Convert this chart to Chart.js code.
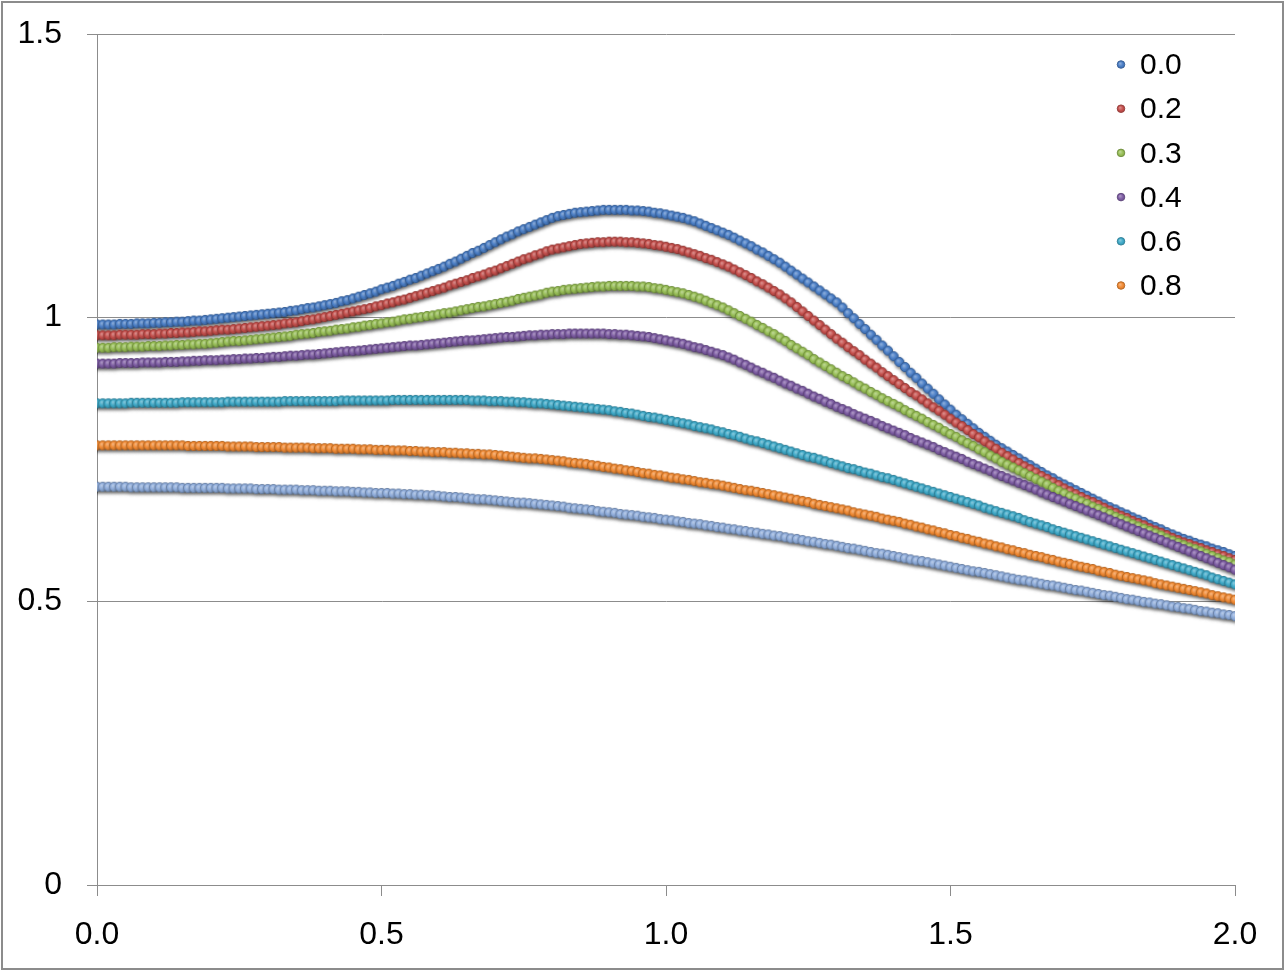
<!DOCTYPE html>
<html>
<head>
<meta charset="utf-8">
<script src="https://cdn.jsdelivr.net/npm/chart.js@4.4.1/dist/chart.umd.min.js"></script>
<style>
  html, body { margin: 0; padding: 0; background: #fff; }
  #wrap { position: absolute; left: 0; top: 0; width: 1286px; height: 971px; }
  canvas { display: block; }
</style>
</head>
<body>
<div id="wrap"><canvas id="c" width="1286" height="971"></canvas></div>
<script>
// ---- data ----
const seriesLabels = ['0.0', '0.2', '0.3', '0.4', '0.6', '0.8', '1.0'];
const legendCount = 6;           // the reference legend shows only the first six
const xMin = 0, xMax = 2, xStepCount = 200; // sample grid 0.00 .. 2.00
const xTicks = [0, 0.5, 1.0, 1.5, 2.0];
const yTicks = [0, 0.5, 1, 1.5];

const s00 = [
0.988,0.988,0.988,0.988,0.989,0.989,0.989,0.990,0.990,0.990,
0.991,0.991,0.992,0.992,0.993,0.993,0.994,0.995,0.995,0.996,
0.997,0.998,0.999,1.000,1.001,1.002,1.003,1.004,1.005,1.006,
1.007,1.008,1.009,1.010,1.012,1.013,1.015,1.017,1.018,1.020,
1.022,1.024,1.026,1.029,1.031,1.034,1.037,1.040,1.043,1.046,
1.050,1.053,1.056,1.060,1.063,1.067,1.070,1.074,1.078,1.082,
1.086,1.090,1.095,1.099,1.104,1.109,1.114,1.118,1.123,1.128,
1.133,1.138,1.143,1.147,1.152,1.156,1.160,1.164,1.168,1.172,
1.176,1.179,1.181,1.183,1.185,1.186,1.187,1.188,1.189,1.190,
1.190,1.190,1.190,1.190,1.189,1.189,1.188,1.187,1.185,1.184,
1.182,1.180,1.178,1.176,1.173,1.170,1.166,1.162,1.158,1.154,
1.150,1.146,1.141,1.136,1.131,1.126,1.120,1.115,1.109,1.103,
1.097,1.090,1.083,1.076,1.069,1.062,1.055,1.048,1.041,1.034,
1.027,1.018,1.008,0.999,0.989,0.980,0.970,0.961,0.951,0.942,
0.932,0.922,0.913,0.903,0.894,0.884,0.875,0.866,0.856,0.847,
0.838,0.829,0.821,0.813,0.805,0.797,0.790,0.783,0.776,0.770,
0.764,0.758,0.752,0.746,0.740,0.734,0.728,0.722,0.717,0.711,
0.706,0.701,0.696,0.691,0.686,0.681,0.676,0.671,0.666,0.662,
0.657,0.653,0.648,0.644,0.640,0.635,0.631,0.627,0.622,0.618,
0.614,0.610,0.607,0.603,0.600,0.597,0.593,0.590,0.587,0.583,
0.580];

const s02 = [
0.969,0.969,0.969,0.969,0.970,0.970,0.970,0.970,0.971,0.971,
0.971,0.972,0.972,0.973,0.973,0.974,0.974,0.975,0.976,0.976,
0.977,0.978,0.979,0.979,0.980,0.981,0.982,0.983,0.984,0.985,
0.986,0.987,0.988,0.990,0.991,0.992,0.994,0.996,0.997,0.999,
1.001,1.003,1.005,1.007,1.009,1.011,1.013,1.015,1.017,1.020,
1.022,1.025,1.027,1.030,1.032,1.035,1.038,1.041,1.044,1.047,
1.050,1.053,1.057,1.060,1.063,1.066,1.070,1.073,1.076,1.080,
1.083,1.087,1.091,1.095,1.099,1.103,1.106,1.110,1.113,1.117,
1.120,1.122,1.124,1.126,1.128,1.130,1.131,1.132,1.133,1.133,
1.134,1.134,1.134,1.133,1.133,1.132,1.131,1.130,1.128,1.127,
1.125,1.123,1.121,1.118,1.115,1.112,1.109,1.105,1.102,1.098,
1.094,1.090,1.085,1.080,1.075,1.070,1.064,1.059,1.053,1.047,
1.041,1.034,1.027,1.019,1.011,1.003,0.995,0.987,0.979,0.971,
0.963,0.956,0.948,0.941,0.934,0.926,0.919,0.912,0.904,0.897,
0.890,0.883,0.876,0.869,0.863,0.856,0.849,0.842,0.836,0.829,
0.822,0.815,0.809,0.802,0.795,0.789,0.782,0.775,0.769,0.762,
0.756,0.750,0.744,0.738,0.733,0.727,0.721,0.716,0.710,0.705,
0.699,0.694,0.689,0.684,0.679,0.675,0.670,0.665,0.660,0.656,
0.651,0.647,0.642,0.638,0.634,0.629,0.625,0.621,0.617,0.612,
0.608,0.604,0.601,0.597,0.594,0.590,0.587,0.583,0.580,0.576,
0.573];

const s03 = [
0.947,0.947,0.947,0.948,0.948,0.948,0.949,0.949,0.949,0.950,
0.950,0.950,0.951,0.951,0.952,0.952,0.953,0.953,0.954,0.954,
0.955,0.956,0.957,0.958,0.959,0.959,0.960,0.961,0.962,0.963,
0.964,0.965,0.966,0.967,0.968,0.970,0.971,0.972,0.973,0.975,
0.976,0.977,0.979,0.980,0.981,0.983,0.984,0.986,0.987,0.989,
0.990,0.992,0.993,0.995,0.997,0.998,1.000,1.001,1.003,1.004,
1.006,1.008,1.009,1.011,1.013,1.015,1.017,1.019,1.020,1.022,
1.024,1.026,1.028,1.030,1.033,1.035,1.037,1.039,1.041,1.044,
1.046,1.047,1.049,1.050,1.051,1.052,1.053,1.054,1.055,1.055,
1.056,1.056,1.056,1.056,1.056,1.055,1.055,1.054,1.052,1.051,
1.049,1.047,1.045,1.043,1.040,1.037,1.034,1.030,1.026,1.022,
1.018,1.013,1.008,1.003,0.998,0.993,0.987,0.982,0.976,0.971,
0.965,0.959,0.952,0.946,0.940,0.934,0.927,0.921,0.915,0.909,
0.903,0.897,0.892,0.886,0.880,0.875,0.869,0.864,0.858,0.853,
0.848,0.843,0.837,0.832,0.827,0.822,0.816,0.811,0.806,0.800,
0.795,0.790,0.784,0.779,0.774,0.768,0.763,0.757,0.752,0.746,
0.741,0.736,0.731,0.726,0.721,0.716,0.711,0.706,0.700,0.695,
0.690,0.685,0.681,0.676,0.672,0.667,0.663,0.658,0.654,0.649,
0.645,0.641,0.636,0.632,0.628,0.624,0.620,0.616,0.611,0.607,
0.603,0.599,0.595,0.592,0.588,0.584,0.580,0.576,0.572,0.569,
0.565];

const s04 = [
0.919,0.919,0.919,0.919,0.920,0.920,0.920,0.920,0.921,0.921,
0.921,0.921,0.922,0.922,0.922,0.923,0.923,0.924,0.924,0.925,
0.925,0.925,0.926,0.926,0.927,0.927,0.928,0.928,0.929,0.929,
0.930,0.931,0.931,0.932,0.933,0.933,0.934,0.935,0.935,0.936,
0.937,0.938,0.939,0.940,0.941,0.941,0.942,0.943,0.944,0.945,
0.946,0.947,0.948,0.949,0.950,0.951,0.951,0.952,0.953,0.954,
0.955,0.956,0.957,0.958,0.959,0.960,0.960,0.961,0.962,0.963,
0.964,0.965,0.966,0.966,0.967,0.968,0.969,0.969,0.970,0.970,
0.971,0.971,0.971,0.972,0.972,0.972,0.972,0.972,0.972,0.972,
0.971,0.971,0.970,0.970,0.969,0.968,0.967,0.966,0.964,0.962,
0.960,0.958,0.956,0.954,0.951,0.948,0.946,0.943,0.940,0.937,
0.934,0.930,0.926,0.921,0.917,0.912,0.907,0.903,0.898,0.894,
0.889,0.884,0.880,0.875,0.871,0.866,0.861,0.857,0.852,0.848,
0.843,0.839,0.835,0.830,0.826,0.822,0.818,0.814,0.809,0.805,
0.801,0.797,0.793,0.788,0.784,0.780,0.776,0.772,0.767,0.763,
0.759,0.755,0.751,0.746,0.742,0.738,0.734,0.730,0.725,0.721,
0.717,0.713,0.709,0.705,0.701,0.697,0.692,0.688,0.684,0.680,
0.676,0.672,0.668,0.664,0.660,0.656,0.652,0.648,0.644,0.640,
0.636,0.632,0.628,0.624,0.620,0.616,0.612,0.608,0.604,0.600,
0.596,0.592,0.588,0.584,0.580,0.576,0.572,0.568,0.564,0.560,
0.556];

const s06 = [
0.849,0.849,0.849,0.849,0.849,0.849,0.850,0.850,0.850,0.850,
0.850,0.850,0.850,0.850,0.850,0.851,0.851,0.851,0.851,0.851,
0.851,0.851,0.851,0.852,0.852,0.852,0.852,0.852,0.852,0.852,
0.852,0.852,0.852,0.853,0.853,0.853,0.853,0.853,0.853,0.853,
0.853,0.853,0.853,0.854,0.854,0.854,0.854,0.854,0.854,0.854,
0.854,0.854,0.855,0.855,0.855,0.855,0.855,0.855,0.855,0.855,
0.855,0.855,0.855,0.855,0.855,0.855,0.854,0.854,0.854,0.853,
0.853,0.853,0.852,0.852,0.851,0.851,0.850,0.849,0.849,0.848,
0.847,0.846,0.845,0.844,0.843,0.842,0.841,0.840,0.839,0.838,
0.837,0.835,0.834,0.832,0.831,0.829,0.827,0.825,0.824,0.822,
0.820,0.818,0.816,0.814,0.812,0.809,0.807,0.805,0.803,0.800,
0.798,0.795,0.793,0.790,0.787,0.784,0.782,0.779,0.776,0.773,
0.770,0.767,0.764,0.761,0.758,0.755,0.753,0.750,0.747,0.744,
0.741,0.738,0.735,0.733,0.730,0.727,0.725,0.722,0.719,0.717,
0.714,0.711,0.708,0.705,0.702,0.699,0.696,0.693,0.690,0.687,
0.684,0.681,0.678,0.675,0.672,0.669,0.665,0.662,0.659,0.656,
0.653,0.650,0.647,0.643,0.640,0.637,0.634,0.631,0.627,0.624,
0.621,0.618,0.615,0.612,0.609,0.606,0.603,0.600,0.597,0.594,
0.591,0.588,0.585,0.582,0.579,0.576,0.573,0.570,0.567,0.564,
0.561,0.558,0.555,0.552,0.549,0.546,0.542,0.539,0.536,0.533,
0.530];

const s08 = [
0.775,0.775,0.775,0.775,0.775,0.775,0.775,0.775,0.775,0.775,
0.775,0.775,0.775,0.775,0.775,0.775,0.774,0.774,0.774,0.774,
0.774,0.774,0.774,0.773,0.773,0.773,0.773,0.773,0.772,0.772,
0.772,0.772,0.772,0.771,0.771,0.771,0.771,0.771,0.770,0.770,
0.770,0.770,0.769,0.769,0.769,0.769,0.768,0.768,0.768,0.767,
0.767,0.767,0.766,0.766,0.766,0.765,0.765,0.764,0.764,0.763,
0.763,0.763,0.762,0.762,0.761,0.761,0.760,0.760,0.759,0.759,
0.758,0.757,0.756,0.755,0.754,0.753,0.752,0.752,0.751,0.750,
0.749,0.748,0.747,0.745,0.744,0.743,0.742,0.740,0.739,0.737,
0.736,0.734,0.733,0.731,0.730,0.728,0.726,0.725,0.723,0.722,
0.720,0.718,0.717,0.715,0.714,0.712,0.710,0.709,0.707,0.706,
0.704,0.702,0.700,0.698,0.696,0.695,0.693,0.691,0.689,0.687,
0.685,0.683,0.681,0.679,0.677,0.675,0.672,0.670,0.668,0.666,
0.664,0.662,0.660,0.657,0.655,0.653,0.651,0.649,0.646,0.644,
0.642,0.640,0.637,0.635,0.632,0.630,0.627,0.625,0.622,0.620,
0.617,0.615,0.612,0.610,0.607,0.605,0.602,0.600,0.597,0.595,
0.592,0.590,0.587,0.585,0.582,0.580,0.578,0.575,0.573,0.570,
0.568,0.566,0.563,0.561,0.559,0.557,0.554,0.552,0.550,0.547,
0.545,0.543,0.541,0.539,0.537,0.535,0.532,0.530,0.528,0.526,
0.524,0.522,0.520,0.518,0.516,0.514,0.511,0.509,0.507,0.505,
0.503];

const s10 = [
0.702,0.702,0.702,0.702,0.702,0.702,0.701,0.701,0.701,0.701,
0.701,0.701,0.701,0.701,0.701,0.700,0.700,0.700,0.700,0.700,
0.700,0.700,0.700,0.699,0.699,0.699,0.699,0.699,0.698,0.698,
0.698,0.698,0.697,0.697,0.697,0.697,0.696,0.696,0.696,0.695,
0.695,0.695,0.694,0.694,0.694,0.693,0.693,0.692,0.692,0.691,
0.691,0.691,0.690,0.690,0.689,0.689,0.688,0.688,0.687,0.687,
0.686,0.685,0.684,0.684,0.683,0.682,0.681,0.680,0.680,0.679,
0.678,0.677,0.676,0.675,0.674,0.674,0.673,0.672,0.671,0.670,
0.669,0.668,0.667,0.665,0.664,0.663,0.662,0.661,0.659,0.658,
0.657,0.656,0.654,0.653,0.652,0.651,0.649,0.648,0.647,0.645,
0.644,0.643,0.641,0.640,0.638,0.637,0.636,0.634,0.633,0.631,
0.630,0.628,0.627,0.625,0.624,0.622,0.621,0.619,0.618,0.616,
0.615,0.613,0.611,0.610,0.608,0.606,0.605,0.603,0.601,0.600,
0.598,0.596,0.594,0.593,0.591,0.589,0.587,0.585,0.584,0.582,
0.580,0.578,0.576,0.574,0.572,0.571,0.569,0.567,0.565,0.563,
0.561,0.559,0.557,0.555,0.553,0.552,0.550,0.548,0.546,0.544,
0.542,0.540,0.538,0.537,0.535,0.533,0.531,0.529,0.528,0.526,
0.524,0.522,0.520,0.519,0.517,0.515,0.513,0.511,0.510,0.508,
0.506,0.504,0.503,0.501,0.499,0.498,0.496,0.495,0.493,0.491,
0.490,0.488,0.487,0.485,0.483,0.482,0.480,0.479,0.477,0.476,
0.474];

const seriesValues = [s00, s02, s03, s04, s06, s08, s10];

// ---- styles ----
const seriesColors = ['#4a7ec6', '#c44e4b', '#97be55', '#7d5ca3', '#3ea9c8', '#f18a33', '#8faddc'];
const gridColor = '#8c8c8c';
const fontFamily = '"Liberation Sans", Arial, sans-serif';

function hexToRgb(h) {
  const n = parseInt(h.slice(1), 16);
  return [(n >> 16) & 255, (n >> 8) & 255, n & 255];
}
function mix(h, t, amt) {
  const c = hexToRgb(h);
  return 'rgb(' + c.map(v => Math.round(v + (t - v) * amt)).join(',') + ')';
}
function drawBall(ctx, cx, cy, r, col) {
  const g = ctx.createRadialGradient(cx - r * 0.25, cy - r * 0.3, r * 0.1, cx, cy, r);
  g.addColorStop(0, mix(col, 255, 0.35));
  g.addColorStop(0.6, col);
  g.addColorStop(1, mix(col, 0, 0.12));
  ctx.beginPath();
  ctx.arc(cx, cy, r, 0, Math.PI * 2);
  ctx.fillStyle = g;
  ctx.fill();
  ctx.lineWidth = 0.9;
  ctx.strokeStyle = mix(col, 0, 0.25);
  ctx.stroke();
}
function makeSprite(col, r) {
  const s = 22;
  const c = document.createElement('canvas');
  c.width = s; c.height = s;
  const ctx = c.getContext('2d');
  ctx.save();
  ctx.shadowColor = 'rgba(0,0,0,0.55)';
  ctx.shadowBlur = 3.5;
  ctx.shadowOffsetX = 0.5;
  ctx.shadowOffsetY = 2.5;
  ctx.beginPath();
  ctx.arc(s / 2, s / 2, r, 0, Math.PI * 2);
  ctx.fillStyle = col;
  ctx.fill();
  ctx.restore();
  drawBall(ctx, s / 2, s / 2, r, col);
  return c;
}
const sprites = seriesColors.map(c => makeSprite(c, 4.6));

const xValues = [];
for (let i = 0; i <= xStepCount; i++) xValues.push(+(xMin + (xMax - xMin) * i / xStepCount).toFixed(2));

const datasets = seriesValues.map((vals, k) => ({
  label: seriesLabels[k],
  data: vals.map((v, i) => ({ x: xValues[i], y: v })),
  showLine: false,
  pointStyle: sprites[k],
  pointRadius: 4.5,
  pointHoverRadius: 4.5,
  backgroundColor: seriesColors[k],
  borderColor: seriesColors[k],
  order: seriesValues.length - k
}));

const framePlugin = {
  id: 'frameAndLegend',
  afterDraw(chart) {
    const ctx = chart.ctx;
    ctx.save();
    ctx.strokeStyle = gridColor;
    ctx.lineWidth = 2;
    ctx.strokeRect(2, 2, 1281, 967);
    // legend
    ctx.font = '30px ' + fontFamily;
    ctx.textBaseline = 'middle';
    ctx.textAlign = 'left';
    for (let i = 0; i < legendCount; i++) {
      const y = 64.5 + i * 44.2;
      drawBall(ctx, 1121, y, 3.8, seriesColors[i]);
      ctx.fillStyle = '#000';
      ctx.fillText(seriesLabels[i], 1140, y + 1.5);
    }
    ctx.restore();
  }
};

function zeroPad(scale) {
  scale.paddingTop = 0; scale.paddingBottom = 0;
  scale.paddingLeft = 0; scale.paddingRight = 0;
}

new Chart(document.getElementById('c'), {
  type: 'scatter',
  data: { datasets },
  plugins: [framePlugin],
  options: {
    responsive: false,
    animation: false,
    devicePixelRatio: 1,
    layout: { padding: { left: 0, top: 34, right: 51, bottom: 0 } },
    plugins: { legend: { display: false }, tooltip: { enabled: false } },
    events: [],
    scales: {
      x: {
        type: 'linear',
        min: xMin, max: xMax,
        afterFit(scale) { scale.height = 86; zeroPad(scale); },
        afterBuildTicks(scale) { scale.ticks = xTicks.map(v => ({ value: v })); },
        grid: { drawOnChartArea: false, drawTicks: true, tickLength: 11, color: gridColor, lineWidth: 1 },
        border: { display: true, color: gridColor, width: 1 },
        ticks: {
          color: '#000', padding: 20, maxRotation: 0, autoSkip: false,
          font: { family: fontFamily, size: 32 },
          callback: v => Number(v).toFixed(1)
        }
      },
      y: {
        type: 'linear',
        min: 0, max: 1.5,
        afterFit(scale) { scale.width = 97; zeroPad(scale); },
        afterBuildTicks(scale) { scale.ticks = yTicks.map(v => ({ value: v })); },
        grid: { drawTicks: true, tickLength: 10, color: gridColor, lineWidth: 1 },
        border: { display: true, color: gridColor, width: 1 },
        ticks: {
          color: '#000', padding: 25,
          font: { family: fontFamily, size: 32 },
          callback: v => String(v)
        }
      }
    }
  }
});
</script>
</body>
</html>
